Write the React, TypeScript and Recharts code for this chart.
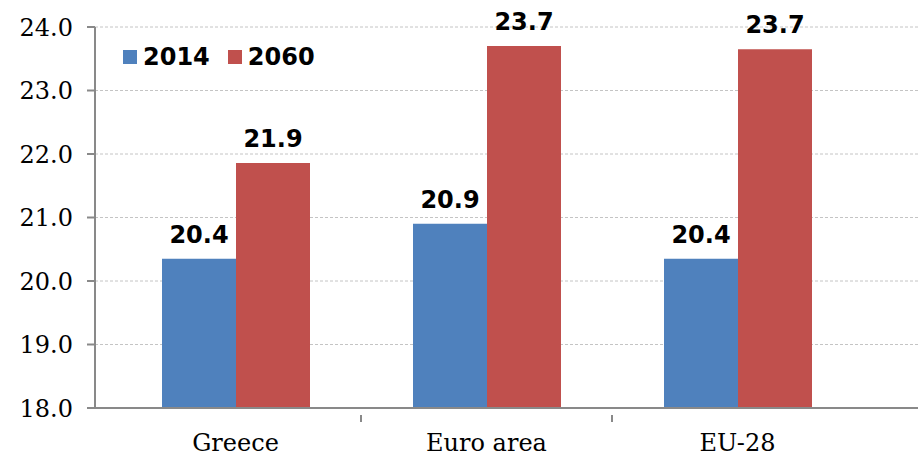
import React from 'react';
import { BarChart, Bar, XAxis, YAxis, CartesianGrid, LabelList } from 'recharts';

const categories = ['Greece', 'Euro area', 'EU-28'];
const values2014 = [20.35, 20.9, 20.35];
const values2060 = [21.86, 23.7, 23.65];
const labels2014 = ['20.4', '20.9', '20.4'];
const labels2060 = ['21.9', '23.7', '23.7'];
const yTicks = [18, 19, 20, 21, 22, 23, 24];
const seriesNames = ['2014', '2060'];
const colors = ['#4F81BD', '#C0504D'];

const data = categories.map((c, i) => ({
  name: c,
  v2014: values2014[i],
  v2060: values2060[i],
  l2014: labels2014[i],
  l2060: labels2060[i],
}));

const SERIF = '"DejaVu Serif", serif';
const SANS = '"DejaVu Sans", Verdana, sans-serif';

const XTick = (props: any) => {
  const { x, y, payload, index } = props;
  const off = payload && payload.offset ? payload.offset : 125.6;
  return (
    <g>
      {index > 0 && (
        <line x1={x - off} x2={x - off} y1={y - 1} y2={y + 6} stroke="#898989" strokeWidth={2} />
      )}
      <text x={x} y={y + 35} textAnchor="middle" fontFamily={SERIF} fontSize={24} fill="#000">
        {payload.value}
      </text>
    </g>
  );
};

const LegendBox = () => (
  <div
    style={{
      position: 'absolute',
      left: 123,
      top: 43,
      display: 'flex',
      alignItems: 'center',
      fontFamily: SANS,
      fontWeight: 'bold',
      fontSize: 24,
      color: '#000',
    }}
  >
    {seriesNames.map((s, i) => (
      <div key={s} style={{ display: 'flex', alignItems: 'center', marginRight: 18 }}>
        <div style={{ width: 14, height: 14, background: colors[i], marginRight: 6 }} />
        <span style={{ lineHeight: '28px' }}>{s}</span>
      </div>
    ))}
  </div>
);

export default function App() {
  return (
    <div style={{ position: 'absolute', left: 0, top: 0, width: 918, height: 454, background: '#fff' }}>
      <BarChart
        width={918}
        height={454}
        data={data}
        margin={{ top: 27, right: 0, bottom: 0, left: 0 }}
        barCategoryGap={52}
        barGap={0}
      >
        <CartesianGrid vertical={false} stroke="#c4c4c4" strokeDasharray="3 2" />
        <XAxis
          dataKey="name"
          height={46}
          tick={<XTick />}
          tickLine={false}
          axisLine={{ stroke: '#898989', strokeWidth: 2 }}
          padding={{ left: 15, right: 55 }}
          interval={0}
        />
        <YAxis
          width={95}
          domain={[18, 24]}
          ticks={yTicks}
          interval={0}
          tickFormatter={(v: number) => v.toFixed(1)}
          tick={{ fontFamily: SERIF, fontSize: 24, fill: '#000' }}
          tickSize={8}
          tickMargin={14}
          tickLine={{ stroke: '#898989', strokeWidth: 2 }}
          axisLine={{ stroke: '#898989', strokeWidth: 2 }}
        />
        <Bar dataKey="v2014" name="2014" fill={colors[0]} isAnimationActive={false}>
          <LabelList
            dataKey="l2014"
            position="top"
            offset={16}
            style={{ fontFamily: SANS, fontWeight: 'bold', fontSize: 24, fill: '#000' }}
          />
        </Bar>
        <Bar dataKey="v2060" name="2060" fill={colors[1]} isAnimationActive={false}>
          <LabelList
            dataKey="l2060"
            position="top"
            offset={16}
            style={{ fontFamily: SANS, fontWeight: 'bold', fontSize: 24, fill: '#000' }}
          />
        </Bar>
      </BarChart>
      <LegendBox />
    </div>
  );
}
